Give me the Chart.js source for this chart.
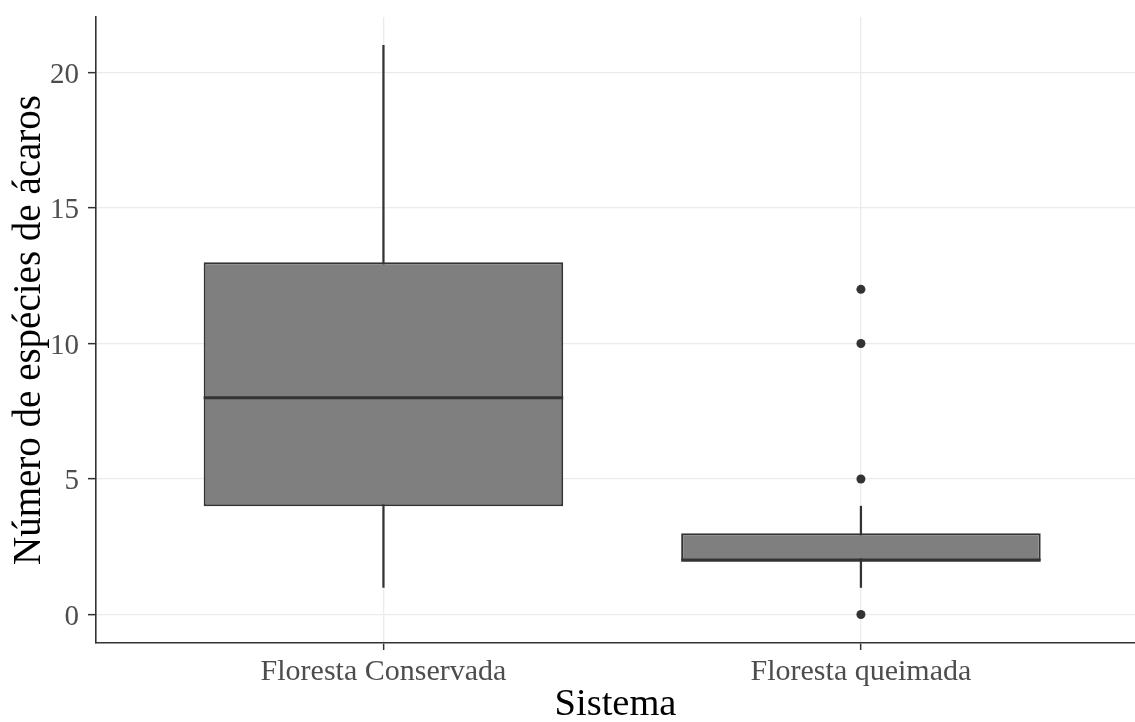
<!DOCTYPE html>
<html>
<head>
<meta charset="utf-8">
<title>Número de espécies de ácaros por sistema</title>
<script src="https://cdn.jsdelivr.net/npm/chart.js@4"></script>
<style>
  html, body { margin: 0; padding: 0; background: #fff; }
  canvas { display: block; }
</style>
</head>
<body>
<canvas id="chart" width="1135" height="722"></canvas>
<script>
// Boxplot of mite species counts per system (ggplot-like look).
const CATEGORIES = ['Floresta Conservada', 'Floresta queimada'];
const POSITIONS  = [1, 2];
const WHISK_LOW  = [1, 1];
const Q1         = [4, 2];
const MEDIAN     = [8, 2];
const Q3         = [13, 3];
const WHISK_HIGH = [21, 4];
const OUTLIERS   = [[], [0, 5, 10, 12]];
const Y_TICKS    = [0, 5, 10, 15, 20];

const BOX_WIDTH = 0.753;   // in category units
const INK   = '#333333';
const FILL  = '#7f7f7f';
const GRID  = '#ebebeb';
const FONT  = "'Liberation Serif', 'Times New Roman', serif";

const whiskers = POSITIONS.map((x, i) => ({ x, y: [WHISK_LOW[i], WHISK_HIGH[i]] }));
const boxes    = POSITIONS.map((x, i) => ({ x, y: [Q1[i], Q3[i]] }));
const outliers = POSITIONS.flatMap((x, i) => OUTLIERS[i].map(y => ({ x, y })));
const medianSets = POSITIONS.map((x, i) => ({
    type: 'line',
    data: [{ x: x - BOX_WIDTH / 2, y: MEDIAN[i] }, { x: x + BOX_WIDTH / 2, y: MEDIAN[i] }],
    borderColor: INK,
    borderWidth: 3,
    pointRadius: 0,
    order: 2,
}));

// fixed axis boxes so the panel sits where the ggplot panel does
function fixBox(size) {
    return scale => {
        if (scale.isHorizontal()) scale.height = size; else scale.width = size;
        scale.paddingTop = scale.paddingBottom = scale.paddingLeft = scale.paddingRight = 0;
    };
}

new Chart(document.getElementById('chart'), {
    type: 'bar',
    data: {
        datasets: [
            {
                data: whiskers,
                backgroundColor: INK,
                barThickness: 1.6,
                grouped: false,
                order: 4,
            },
            {
                data: boxes,
                backgroundColor: FILL,
                borderColor: INK,
                borderWidth: 2,
                borderSkipped: false,
                categoryPercentage: 1,
                barPercentage: BOX_WIDTH,
                grouped: false,
                order: 3,
            },
            ...medianSets,
            {
                type: 'scatter',
                data: outliers,
                backgroundColor: INK,
                borderColor: INK,
                pointRadius: 4.5,
                borderWidth: 0,
                order: 1,
            },
        ],
    },
    options: {
        responsive: false,
        devicePixelRatio: 1,
        animation: false,
        layout: { autoPadding: false, padding: { top: 17, right: 0, left: 0, bottom: 0 } },
        plugins: {
            legend: { display: false },
            tooltip: { enabled: false },
        },
        scales: {
            x: {
                type: 'linear',
                offset: false,
                min: 0.398,
                max: 2.574,
                afterBuildTicks: s => { s.ticks = POSITIONS.map(v => ({ value: v })); },
                afterFit: fixBox(79),
                ticks: {
                    callback: (v, i) => CATEGORIES[i],
                    color: '#4d4d4d',
                    font: { family: FONT, size: 30 },
                    padding: 4,
                    maxRotation: 0,
                },
                grid: { offset: false, color: GRID, lineWidth: 1.3, tickColor: INK, tickWidth: 1.5, tickLength: 7 },
                border: { color: INK, width: 1.6 },
                title: {
                    display: true,
                    text: 'Sistema',
                    color: '#000',
                    font: { family: FONT, size: 38.5, lineHeight: 0.9 },
                    padding: 0,
                },
            },
            y: {
                min: -1.05,
                max: 22.05,
                afterBuildTicks: s => { s.ticks = Y_TICKS.map(v => ({ value: v })); },
                afterFit: fixBox(96),
                ticks: {
                    color: '#4d4d4d',
                    font: { family: FONT, size: 29 },
                    padding: 9,
                    labelOffset: 2.5,
                },
                grid: { color: GRID, lineWidth: 1.3, tickColor: INK, tickWidth: 1.5, tickLength: 8 },
                border: { color: INK, width: 1.6 },
                title: {
                    display: true,
                    text: 'Número de espécies de ácaros',
                    color: '#000',
                    font: { family: FONT, size: 39 },
                    padding: { top: 6, bottom: 0 },
                },
            },
        },
    },
});
</script>
</body>
</html>
